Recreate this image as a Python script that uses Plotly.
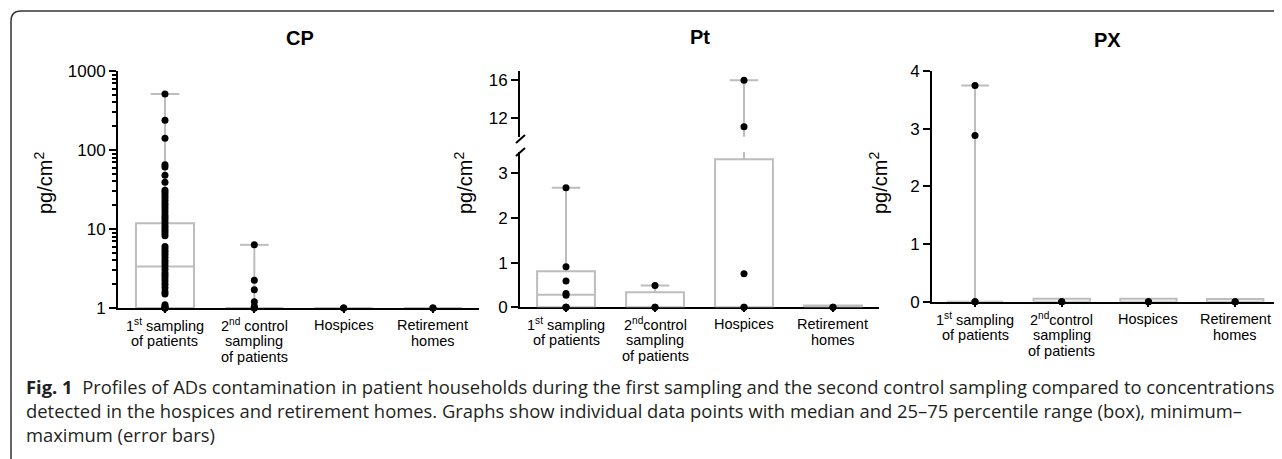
import plotly.graph_objects as go

W, H = 1282, 459
OFF = 8  # the page body adds an 8px margin; positions below are screen pixels

# ---------------- data ----------------
categories = ["1st sampling of patients", "2nd control sampling of patients", "Hospices", "Retirement homes"]
labels_cp = [["1<sup>st</sup> sampling", "of patients"], ["2<sup>nd</sup> control", "sampling", "of patients"],
             ["Hospices"], ["Retirement", "homes"]]
labels_other = [["1<sup>st</sup> sampling", "of patients"], ["2<sup>nd</sup>control", "sampling", "of patients"],
                ["Hospices"], ["Retirement", "homes"]]

# CP (log axis; values below LOD shown at 1)
cp_points = [
    [512, 238, 141, 65, 61, 48, 39, 31, 29, 27, 25, 23, 21, 19.5, 18, 16.5, 15, 14, 13, 12, 11, 10.3, 9.6,
     8.9, 8.2, 6.0, 5.6, 5.2, 4.8, 4.4, 4.0, 3.7, 3.4, 3.1, 2.8, 2.6, 2.4, 2.2, 2.0, 1.8, 1.6, 1.5,
     1.1, 1.05, 1.0, 1.0, 1.0],
    [6.3, 2.25, 1.7, 1.2, 1.05, 1.0, 1.0],
    [1.0, 1.0],
    [1.0, 1.0],
]
cp_q1 = [1, 1, 1, 1]
cp_med = [3.35, 1, 1, 1]
cp_q3 = [11.8, 1, 1, 1]
cp_max = [512, 6.3, 1, 1]

# Pt (broken axis)
pt_points = [
    [2.68, 0.91, 0.59, 0.31, 0.27, 0, 0, 0],
    [0.49, 0, 0],
    [16, 11.05, 0.75, 0, 0],
    [0, 0],
]
pt_q1 = [0, 0, 0, 0]
pt_med = [0.28, 0, 0, 0]
pt_q3 = [0.81, 0.34, 3.32, 0.04]
pt_max = [2.68, 0.49, 16, 0]

# PX
px_points = [
    [3.75, 2.88, 0, 0],
    [0, 0],
    [0, 0],
    [0, 0],
]
px_q1 = [0, 0, 0, 0]
px_med = [0, 0, 0, 0]
px_q3 = [0.012, 0.05, 0.05, 0.045]
px_max = [3.75, 0, 0, 0]

cp_ticks = [1, 10, 100, 1000]
cp_minor = [2, 3, 4, 5, 6, 7, 8, 9, 20, 30, 40, 50, 60, 70, 80, 90, 200, 300, 400, 500, 600, 700, 800, 900]
pt_ticks_low = [0, 1, 2, 3]
pt_ticks_up = [12, 16]
px_ticks = [0, 1, 2, 3, 4]

caption_lines = [
    "<b>Fig. 1</b>  Profiles of ADs contamination in patient households during the first sampling and the second control sampling compared to concentrations",
    "detected in the hospices and retirement homes. Graphs show individual data points with median and 25\u201375 percentile range (box), minimum\u2013",
    "maximum (error bars)",
]

# ---------------- style ----------------
GRAY = "#bdbdbd"
FONT = "Arial, Liberation Sans, sans-serif"
BOX_HW = 0.325
CAP_HW = 0.16


def px(x):
    return (x - OFF) / W


def py(y):
    return 1 - (y - OFF) / H


fig = go.Figure()


def add_group(xa, ya, points, q1, med, q3, vmax, ymin_vis=None, ymax_vis=None, draw_box=True):
    for i in range(len(points)):
        if draw_box:
            fig.add_trace(go.Scatter(
                x=[i - BOX_HW, i + BOX_HW, i + BOX_HW, i - BOX_HW, i - BOX_HW],
                y=[q1[i], q1[i], q3[i], q3[i], q1[i]],
                mode="lines", fill="toself", fillcolor="white",
                line=dict(color=GRAY, width=2), xaxis=xa, yaxis=ya, hoverinfo="skip"))
            if q3[i] > q1[i] and med[i] > q1[i]:
                fig.add_trace(go.Scatter(
                    x=[i - BOX_HW, i + BOX_HW], y=[med[i], med[i]], mode="lines",
                    line=dict(color=GRAY, width=2), xaxis=xa, yaxis=ya, hoverinfo="skip"))
        if vmax[i] > q3[i]:
            fig.add_trace(go.Scatter(
                x=[i, i, None, i - CAP_HW, i + CAP_HW],
                y=[q3[i], vmax[i], None, vmax[i], vmax[i]], mode="lines",
                line=dict(color=GRAY, width=2), xaxis=xa, yaxis=ya, hoverinfo="skip"))
        pts = [v for v in points[i]
               if (ymin_vis is None or v >= ymin_vis) and (ymax_vis is None or v <= ymax_vis)]
        if pts:
            fig.add_trace(go.Scatter(
                x=[i] * len(pts), y=pts, mode="markers",
                marker=dict(color="black", size=7), cliponaxis=False,
                xaxis=xa, yaxis=ya, hoverinfo="skip"))


add_group("x", "y", cp_points, cp_q1, cp_med, cp_q3, cp_max)
add_group("x2", "y2", pt_points, pt_q1, pt_med, pt_q3, pt_max, ymax_vis=3.48)
add_group("x2", "y3", pt_points, pt_q1, pt_med, pt_q3, pt_max, ymin_vis=10, draw_box=False)
add_group("x3", "y4", px_points, px_q1, px_med, px_q3, px_max)

axis_common = dict(showline=True, linecolor="black", linewidth=2, showgrid=False, zeroline=False,
                   layer="below traces", automargin=False)

xcommon = dict(axis_common, showticklabels=False, ticks="outside", ticklen=3, tickwidth=1.5,
               tickcolor="black", tickvals=[0, 1, 2, 3])
ycommon = dict(axis_common, ticks="outside", ticklen=7, tickwidth=2, tickcolor="black",
               tickfont=dict(family=FONT, size=17, color="black"))

fig.update_layout(
    width=W, height=H, margin=dict(l=0, r=0, t=0, b=0, pad=0, autoexpand=False),
    paper_bgcolor="white", plot_bgcolor="rgba(0,0,0,0)", showlegend=False,
    xaxis=dict(xcommon, domain=[px(118), px(479)], range=[-0.526, 3.515], anchor="y"),
    yaxis=dict(ycommon, type="log", domain=[py(308), py(71)], range=[0, 3], anchor="x",
               tickvals=cp_ticks, ticktext=[str(t) for t in cp_ticks],
               minor=dict(tickvals=cp_minor, ticks="outside", ticklen=4, tickwidth=1.5,
                          tickcolor="black", showgrid=False)),
    xaxis2=dict(xcommon, domain=[px(520), px(879)], range=[-0.517, 3.517], anchor="y2"),
    yaxis2=dict(ycommon, domain=[py(307.3), py(152)], range=[0, 3.48], anchor="x2",
                tickvals=pt_ticks_low),
    yaxis3=dict(ycommon, domain=[py(136.7), py(70.7)], range=[10, 17], anchor="x2",
                tickvals=pt_ticks_up),
    xaxis3=dict(xcommon, domain=[px(932), px(1282)], range=[-0.496, 3.54], anchor="y4"),
    yaxis4=dict(ycommon, domain=[py(301.7), py(71)], range=[0, 4], anchor="x3",
                tickvals=px_ticks),
)

ann = []
# panel titles
for txt, x, y in [("CP", 300, 38), ("Pt", 700, 37), ("PX", 1107, 40)]:
    ann.append(dict(text="<b>%s</b>" % txt, x=px(x), y=py(y), xref="paper", yref="paper",
                    showarrow=False, font=dict(family=FONT, size=20, color="black"),
                    xanchor="center", yanchor="middle"))
# y-axis titles
for x in [43, 463, 878]:
    ann.append(dict(text="pg/cm<sup>2</sup>", x=px(x), y=py(183), xref="paper", yref="paper",
                    showarrow=False, textangle=-90, font=dict(family=FONT, size=20, color="black"),
                    xanchor="center", yanchor="middle"))
# category labels (one annotation per line for tight line spacing)
for xa, labels, axis_y in [("x", labels_cp, 308), ("x2", labels_other, 307.3), ("x3", labels_other, 301.7)]:
    for i, lines in enumerate(labels):
        for k, line in enumerate(lines):
            ann.append(dict(text=line, x=i, y=py(axis_y + 17 + 16 * k), xref=xa, yref="paper",
                            showarrow=False, font=dict(family=FONT, size=14.5, color="black"),
                            xanchor="center", yanchor="middle"))
# caption (one block)
ann.append(dict(text="<br>".join(caption_lines), x=px(24), y=py(410.5), xref="paper", yref="paper",
                showarrow=False, font=dict(family="Open Sans, sans-serif", size=18.4, color="#231f20"),
                xanchor="left", yanchor="middle", align="left"))
fig.update_layout(annotations=ann)

# broken-axis marks and rounded frame
shapes = []
for y0, y1 in [(143, 135), (156, 148)]:
    shapes.append(dict(type="line", xref="paper", yref="paper", x0=px(516), x1=px(525),
                       y0=py(y0), y1=py(y1), line=dict(color="black", width=2)))
r = 10
x0, y0 = 11, 11
path = "M {a},{b} L {a},{c} Q {a},{d} {e},{d} L {f},{d}".format(
    a=px(x0), b=py(H + 2), c=py(y0 + r), d=py(y0), e=px(x0 + r), f=px(W + 2))
shapes.append(dict(type="path", xref="paper", yref="paper", path=path,
                   line=dict(color="#333333", width=1.5)))
fig.update_layout(shapes=shapes)

fig.write_html("out.html")
